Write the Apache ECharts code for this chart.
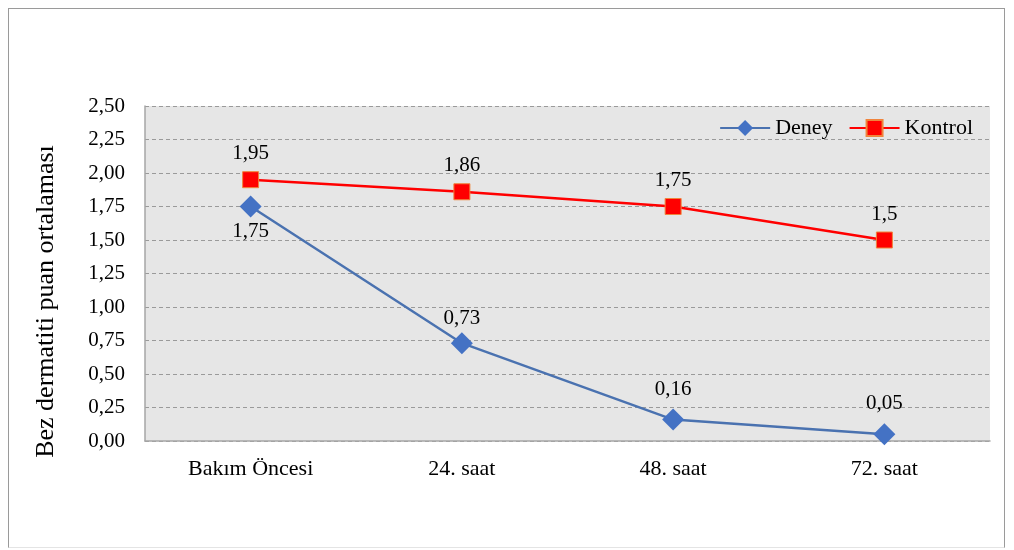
<!DOCTYPE html>
<html>
<head>
<meta charset="utf-8">
<script src="https://cdn.jsdelivr.net/npm/echarts@6/dist/echarts.min.js"></script>
<style>
  html, body { margin: 0; padding: 0; background: #ffffff; }
  #frame { position: absolute; left: 8px; top: 8px; width: 997px; height: 540px; border: 1px solid #9a9a9a; border-bottom-color: #e4e4e4; box-sizing: border-box; }
  #chart { position: absolute; left: 0; top: 0; width: 1014px; height: 550px; }
</style>
</head>
<body>
<div id="frame"></div>
<div id="chart"></div>
<script>
// Mean diaper dermatitis scores over time
const categories = ['Bakım Öncesi', '24. saat', '48. saat', '72. saat'];
const deney = [1.75, 0.73, 0.16, 0.05];
const kontrol = [1.95, 1.86, 1.75, 1.5];
const yTicks = { min: 0, max: 2.5, step: 0.25 };

const comma = v => String(v).replace('.', ',');
const font = '"Liberation Serif", "Times New Roman", serif';

// label placement for the Deney points (first one sits under its marker)
const deneyLabel = [
  { position: 'bottom', distance: 3 },
  { position: 'top', distance: 3 },
  { position: 'top', distance: 9 },
  { position: 'top', distance: 9 }
];

const chart = echarts.init(document.getElementById('chart'));
chart.setOption({
  animation: false,
  textStyle: { fontFamily: font },
  grid: { left: 145, right: 24, top: 106, bottom: 109, containLabel: false,
          show: true, backgroundColor: '#e6e6e6', borderWidth: 0 },
  legend: {
    right: 36, top: 112,
    itemWidth: 50, itemHeight: 20, itemGap: 16,
    textStyle: { fontFamily: font, fontSize: 22, color: '#000' },
    data: ['Deney', 'Kontrol']
  },
  xAxis: {
    type: 'category',
    data: categories,
    boundaryGap: true,
    axisLine: { lineStyle: { color: '#a6a6a6', width: 1.5 } },
    axisTick: { show: false },
    axisLabel: { fontFamily: font, fontSize: 22, color: '#000', margin: 17 }
  },
  yAxis: {
    type: 'value',
    min: yTicks.min, max: yTicks.max, interval: yTicks.step,
    name: 'Bez dermatiti puan ortalaması',
    nameLocation: 'middle', nameGap: 86, nameRotate: 90,
    nameTextStyle: { fontFamily: font, fontSize: 26, color: '#000',
                     padding: [0, 56, 0, 0] },
    axisLine: { show: true, lineStyle: { color: '#a6a6a6', width: 1.5 } },
    axisTick: { show: false },
    axisLabel: { fontFamily: font, fontSize: 21, color: '#000', margin: 20,
                 formatter: v => v.toFixed(2).replace('.', ',') },
    splitLine: { lineStyle: { color: '#9a9a9a', type: [4, 3], width: 1 } }
  },
  series: [
    {
      name: 'Deney', type: 'line',
      symbol: 'diamond', symbolSize: 22,
      lineStyle: { color: '#4a72b0', width: 2.5 },
      itemStyle: { color: '#4472c4' },
      label: {
        show: true, fontFamily: font, fontSize: 21, color: '#000',
        formatter: p => comma(p.value)
      },
      data: deney.map((v, i) => ({ value: v, label: deneyLabel[i] }))
    },
    {
      name: 'Kontrol', type: 'line', data: kontrol,
      symbol: 'rect', symbolSize: 16,
      lineStyle: { color: '#ff0000', width: 2.5 },
      itemStyle: { color: '#ff0000', borderColor: '#f0843c', borderWidth: 1 },
      label: {
        show: true, fontFamily: font, fontSize: 21, color: '#000',
        formatter: p => comma(p.value),
        position: 'top', distance: 7
      }
    }
  ]
});
</script>
</body>
</html>
